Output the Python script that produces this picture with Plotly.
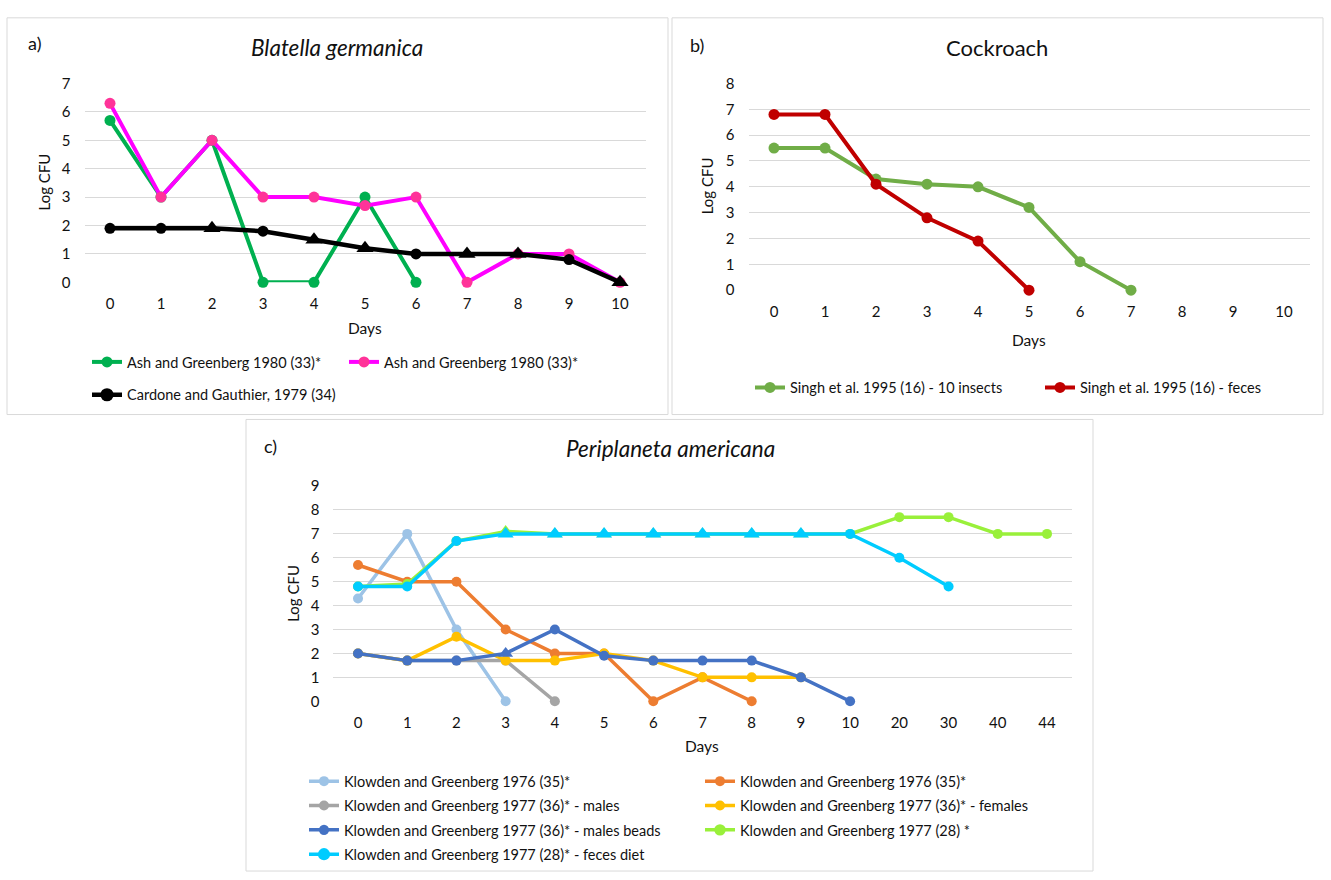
import plotly.graph_objects as go

W, H = 1331, 880
FONT = "Lato, 'Open Sans', sans-serif"


def px(x):
    return x / W


def py(y):
    return 1 - y / H


# ---------------- data ----------------
days_ab = ["0", "1", "2", "3", "4", "5", "6", "7", "8", "9", "10"]
days_c = ["0", "1", "2", "3", "4", "5", "6", "7", "8", "9", "10", "20", "30", "40", "44"]

# panel a  - Blatella germanica
ash_green = [5.7, 3, 5, 0, 0, 3, 0]
ash_pink = [6.3, 3, 5, 3, 3, 2.7, 3, 0, 1, 1, 0]
cardone = [1.9, 1.9, 1.9, 1.8, 1.5, 1.2, 1.0, 1.0, 1.0, 0.8, 0]

# panel b  - Cockroach
singh_insects = [5.5, 5.5, 4.3, 4.1, 4.0, 3.2, 1.1, 0]
singh_feces = [6.8, 6.8, 4.1, 2.8, 1.9, 0]

# panel c  - Periplaneta americana
kg1976_a = [4.3, 7, 3, 0]
kg1976_b = [5.7, 5, 5, 3, 2, 2, 0, 1, 0]
kg1977_males = [2, 1.7, 1.7, 1.7, 0]
kg1977_females = [2, 1.7, 2.7, 1.7, 1.7, 2, 1.7, 1, 1, 1]
kg1977_beads = [2, 1.7, 1.7, 2, 3, 1.9, 1.7, 1.7, 1.7, 1, 0]
kg1977_28 = [4.8, 4.9, 6.7, 7.1, 7, 7, 7, 7, 7, 7, 7, 7.7, 7.7, 7, 7]
kg1977_feces = [4.8, 4.8, 6.7, 7, 7, 7, 7, 7, 7, 7, 7, 6, 4.8]

# ---------------- marker styles ----------------
C, T = "circle", "triangle-up"
cardone_sym = [C, C, T, C, T, T, C, T, T, C, T]
cardone_size = [11 if s == C else 15 for s in cardone_sym]
beads_sym = [C, C, C, T, C, C, C, C, C, C, C]
beads_size = [10 if s == C else 13 for s in beads_sym]
lime_sym = [C, C, C, T, T, T, T, T, T, T, C, C, C, C, C]
lime_size = [10 if s == C else 13 for s in lime_sym]
feces_sym = [C, C, C, T, T, T, T, T, T, T, C, C, C]
feces_size = [10 if s == C else 14 for s in feces_sym]

fig = go.Figure()


def add(xcats, y, name, color, xa, ya, leg, grp, width=4, size=11,
        symbol=C, mcolor=None):
    fig.add_trace(go.Scatter(
        x=xcats[:len(y)], y=y, name=name, mode="lines+markers",
        line=dict(color=color, width=width),
        marker=dict(color=mcolor or color, size=size, symbol=symbol,
                    opacity=1, line=dict(width=0)),
        xaxis=xa, yaxis=ya, legend=leg, legendgroup=grp,
        cliponaxis=False, hoverinfo="x+y+name"))


# panel a
add(days_ab, ash_green, "Ash and Greenberg 1980 (33)*", "#00B050", "x", "y", "legend", "a1")
add(days_ab, ash_pink, "Ash and Greenberg 1980 (33)*", "#FF00FF", "x", "y", "legend2", "a2",
    mcolor="#FF3399")
add(days_ab, cardone, "Cardone and Gauthier, 1979 (34)", "#000000", "x", "y", "legend", "a3",
    width=4.5, size=cardone_size, symbol=cardone_sym)

# panel b
add(days_ab, singh_insects, "Singh et al. 1995 (16) - 10 insects", "#70AD47", "x2", "y2", "legend3", "b1")
add(days_ab, singh_feces, "Singh et al. 1995 (16) - feces", "#C00000", "x2", "y2", "legend4", "b2")

# panel c
add(days_c, kg1976_a, "Klowden and Greenberg 1976 (35)*", "#9DC3E6", "x3", "y3", "legend5", "c1", width=3.5, size=10)
add(days_c, kg1976_b, "Klowden and Greenberg 1976 (35)*", "#ED7D31", "x3", "y3", "legend6", "c2", width=3.5, size=10)
add(days_c, kg1977_males, "Klowden and Greenberg 1977 (36)* - males", "#A5A5A5", "x3", "y3", "legend5", "c3", width=3.5, size=10)
add(days_c, kg1977_females, "Klowden and Greenberg 1977 (36)* - females", "#FFC000", "x3", "y3", "legend6", "c4", width=3.5, size=10)
add(days_c, kg1977_beads, "Klowden and Greenberg 1977 (36)* - males beads", "#4472C4", "x3", "y3", "legend5", "c5",
    width=3.5, size=beads_size, symbol=beads_sym)
add(days_c, kg1977_28, "Klowden and Greenberg 1977 (28) *", "#99F03A", "x3", "y3", "legend6", "c6",
    width=3.5, size=lime_size, symbol=lime_sym)
add(days_c, kg1977_feces, "Klowden and Greenberg 1977 (28)* - feces diet", "#00CCFF", "x3", "y3", "legend5", "c7",
    width=3.5, size=feces_size, symbol=feces_sym)

tickfont = dict(family=FONT, size=15, color="#111111")


def xaxis(dom, cats, anchor):
    return dict(domain=[px(dom[0]), px(dom[1])], type="category",
                categoryorder="array", categoryarray=cats,
                range=[-0.5, len(cats) - 0.5], showgrid=False, zeroline=False,
                showline=False, ticks="", tickfont=tickfont, anchor=anchor,
                ticklabelstandoff=11, fixedrange=True)


def yaxis(dom, top, anchor):
    return dict(domain=[py(dom[0]), py(dom[1])], range=[0, top], dtick=1,
                showgrid=True, gridcolor="#D9D9D9", gridwidth=1,
                zeroline=False, showline=False, ticks="", tickfont=tickfont,
                anchor=anchor, ticklabelstandoff=13, fixedrange=True)


legfont = dict(family=FONT, size=14.5, color="#111111")


def legend(x, ytop, gap):
    return dict(x=px(x), y=py(ytop), xanchor="left", yanchor="top",
                orientation="v", traceorder="grouped", tracegroupgap=gap,
                font=legfont, bgcolor="rgba(0,0,0,0)", borderwidth=0,
                itemclick=False, itemdoubleclick=False)


fig.update_layout(
    width=W, height=H, autosize=False,
    margin=dict(l=0, r=0, t=0, b=0),
    paper_bgcolor="white", plot_bgcolor="white",
    font=dict(family=FONT, color="#111111"),
    xaxis=xaxis((84.5, 645.5), days_ab, "y"),
    yaxis=yaxis((278, 75), 7, "x"),
    xaxis2=xaxis((748.5, 1309.5), days_ab, "y2"),
    yaxis2=yaxis((286, 75), 8, "x2"),
    xaxis3=xaxis((333.4, 1071.6), days_c, "y3"),
    yaxis3=yaxis((705.7, 486), 9, "x3"),
    legend=legend(87, 343, 11),
    legend2=legend(344, 343, 11),
    legend3=legend(750, 369, 0),
    legend4=legend(1040, 369, 0),
    legend5=legend(304, 771, 2.5),
    legend6=legend(700, 771, 2.5),
    showlegend=True,
)

# panel frames
for (x0, y0, x1, y1) in [(7, 8, 668, 413), (672, 8, 1323, 413), (246, 418, 1093, 879)]:
    fig.add_shape(type="rect", xref="paper", yref="paper",
                  x0=px(x0), x1=px(x1), y0=py(y1), y1=py(y0),
                  line=dict(color="#D9D9D9", width=1), fillcolor="rgba(0,0,0,0)",
                  layer="below")


# texts
def text(t, x, y, size, italic=False, angle=0):
    fig.add_annotation(text=t, x=px(x), y=py(y), xref="paper", yref="paper",
                       showarrow=False, xanchor="center", yanchor="middle",
                       textangle=angle,
                       font=dict(family=FONT, size=size, color="#111111",
                                 style="italic" if italic else "normal"))


text("a)", 34, 34, 18)
text("b)", 697, 36, 18)
text("c)", 270, 445, 18)
text("Blatella germanica", 337, 38, 22.5, italic=True)
text("Cockroach", 997, 38, 22)
text("Periplaneta americana", 670, 448, 22.5, italic=True)
for (x, y) in [(44, 176), (707, 180), (293, 596)]:
    text("Log CFU", x, y, 15, angle=-90)
for (x, y) in [(365, 325), (1029, 337), (702, 751)]:
    text("Days", x, y, 15.5)

fig.write_html(
    "out.html",
    config={"displayModeBar": False},
    post_script="document.body.style.margin='0px';document.body.style.overflow='hidden';",
)
